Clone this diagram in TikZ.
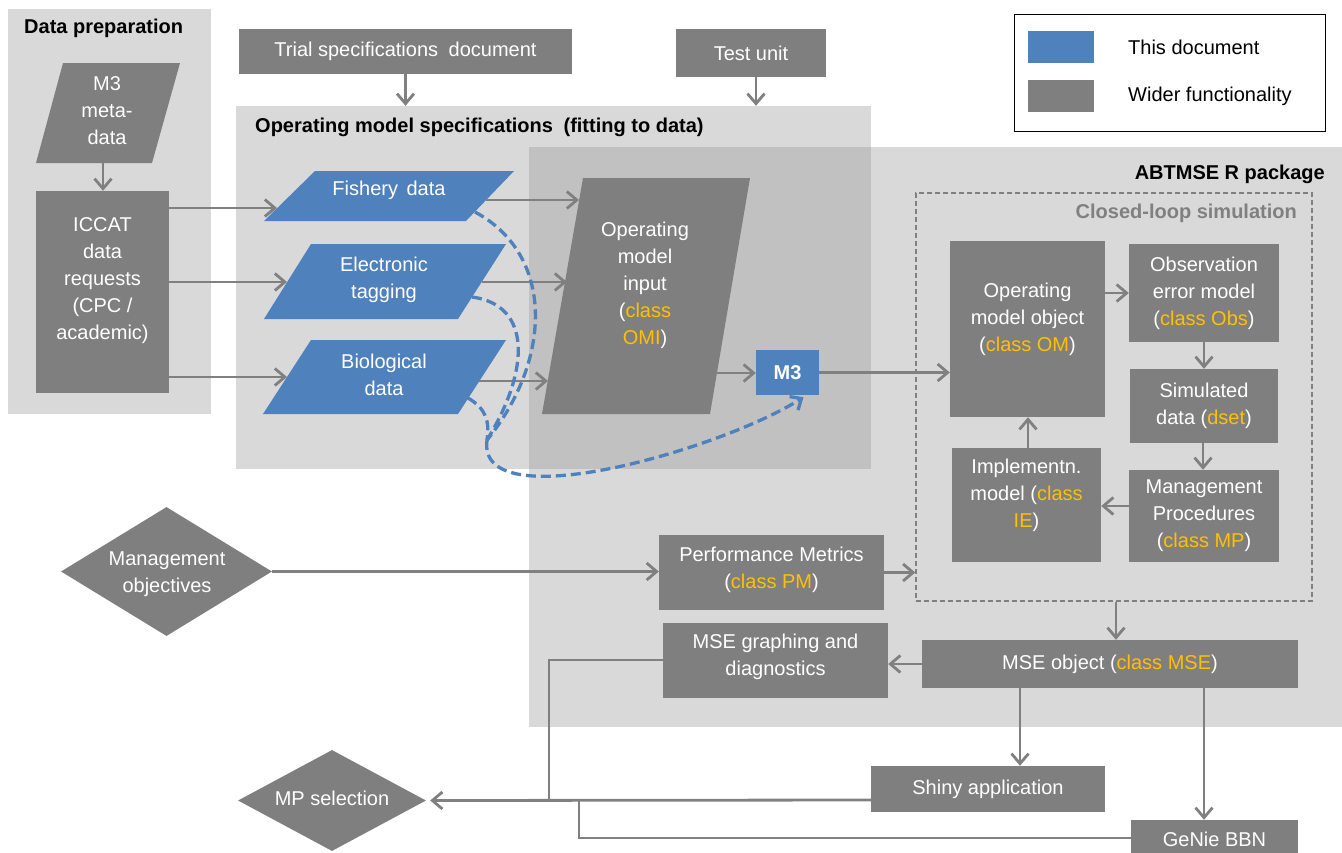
\documentclass[tikz,border=0pt]{standalone}
\usepackage{fontspec}
\setmainfont{Liberation Sans}
\usetikzlibrary{arrows.meta,shapes.geometric,calc}
\definecolor{panel}{HTML}{D9D9D9}
\definecolor{overlapc}{HTML}{C1C1C1}
\definecolor{boxgray}{HTML}{7F7F7F}
\definecolor{docblue}{HTML}{4F81BD}
\definecolor{gold}{HTML}{FFC000}
\definecolor{linegray}{HTML}{808080}
\newcommand{\dfont}{\fontsize{20}{27}\selectfont}
\newcommand{\hfont}{\bfseries\fontsize{20}{24}\selectfont}
\newcommand{\cls}[1]{\textcolor{gold}{#1}}
\tikzset{
  txt/.style={text=white,font=\dfont,align=center,inner sep=0pt},
  gbox/.style={fill=boxgray,draw=none,inner sep=0pt},
  bluebox/.style={fill=docblue,draw=none,inner sep=0pt},
  panelbox/.style={fill=panel,draw=none,inner sep=0pt},
  arr/.style={draw=linegray,line width=2.8pt,-{Straight Barb[length=10pt,width=17pt]}},
  conn/.style={draw=linegray,line width=2.8pt},
  bdash/.style={draw=docblue,line width=3.3pt,dash pattern=on 10pt off 5pt},
  heading/.style={font=\hfont,inner sep=0pt},
}
\begin{document}
\begin{tikzpicture}[x=1pt,y=-1pt]
\useasboundingbox (0,0) rectangle (1342,852);
\fill[white] (0,0) rectangle (1342,852);
% panels
\node[panelbox,minimum width=203pt,minimum height=405pt] (dprep) at (109.5,211.5) {};
\node[panelbox,minimum width=635pt,minimum height=363pt] (omspec) at (553.5,287.5) {};
\node[panelbox,minimum width=813pt,minimum height=580pt] (abt) at (935.5,437) {};
\fill[overlapc] (529,147) rectangle (871,469);
% headings
\node[heading,anchor=west] (dpt) at (24,28) {Data preparation};
\node[heading,anchor=west] (omst) at (255,127) {Operating model specifications\hspace{5pt} (fitting to data)};
\node[heading,anchor=east] (abtt) at (1325,174) {ABTMSE R package};
% legend
\node[draw=black,line width=1pt,fill=white,minimum width=311pt,minimum height=117pt,inner sep=0pt] (legend) at (1169.5,72.5) {};
\node[bluebox,minimum width=66pt,minimum height=32pt] (lgb) at (1061,47) {};
\node[gbox,minimum width=66pt,minimum height=32pt] (lgg) at (1061,96) {};
\node[anchor=west,font=\dfont,inner sep=0pt] (lgbt) at (1128,47) {This document};
\node[anchor=west,font=\dfont,inner sep=0pt] (lggt) at (1128,96) {Wider functionality};
% top boxes
\node[gbox,txt,minimum width=333pt,minimum height=45pt] (trial) at (405.5,51.5) {Trial specifications\hspace{5pt} document};
\node[gbox,txt,minimum width=150pt,minimum height=48pt] (test) at (751,53) {Test unit};
% data preparation
\fill[boxgray] (63,63) -- (180,63) -- (152,163) -- (36,163) -- cycle;
\node[txt] (meta) at (107,111) {M3\\meta-\\data};
\node[gbox,minimum width=133pt,minimum height=202pt] (iccat) at (102.5,292) {};
\node[txt] (iccatt) at (102.5,281) {ICCAT\\data\\requests\\(CPC /\\academic)};
% data parallelograms
\fill[docblue] (315,171) -- (514,171) -- (466,221) -- (264,221) -- cycle;
\node[txt] (fish) at (389,190) {Fishery\hspace{3pt} data};
\fill[docblue] (311,244) -- (506,244) -- (458,319) -- (264,319) -- cycle;
\node[txt] (etag) at (384,280) {Electronic\\tagging};
\fill[docblue] (311,340) -- (506,340) -- (458,414) -- (263,414) -- cycle;
\node[txt] (bio) at (384,375) {Biological\\data};
\fill[boxgray] (583,178) -- (750,178) -- (710,414) -- (542,414) -- cycle;
\node[txt] (omi) at (645,285) {Operating\\model\\input\\(\cls{class}\\\cls{OMI})};
\node[bluebox,txt,font=\bfseries\dfont,minimum width=63pt,minimum height=45pt] (m3) at (787.5,372.5) {M3};
% edge coordinates
\coordinate (metab) at (103,163);
\coordinate (fishL) at (277,208);
\coordinate (etagL) at (287,282);
\coordinate (bioL) at (287,377);
\coordinate (fishR) at (486,200);
\coordinate (omiL1) at (579,200);
\coordinate (etagR) at (482,282);
\coordinate (omiL2) at (567,282);
\coordinate (bioR) at (479,381);
\coordinate (omiL3) at (548,381);
\coordinate (omiR) at (717,373);
\coordinate (fishD) at (475,212);
\coordinate (etagD) at (472,297);
\coordinate (bioD) at (468,398);
\coordinate (merge) at (487,440);
% closed loop
\node[draw=linegray,line width=1.5pt,dash pattern=on 5pt off 3pt,minimum width=396pt,minimum height=408pt,inner sep=0pt] (loop) at (1114,397) {};
\node[heading,anchor=east,text=linegray] (loopt) at (1297,213) {Closed-loop simulation};
\node[gbox,minimum width=155pt,minimum height=176pt] (om) at (1027.5,329) {};
\node[txt] (omt) at (1027.5,319) {Operating\\model object\\(\cls{class OM})};
\node[gbox,txt,minimum width=150pt,minimum height=98pt] (obs) at (1204,293) {Observation\\error model\\(\cls{class Obs})};
\node[gbox,txt,minimum width=148pt,minimum height=74pt] (sim) at (1204,406) {Simulated\\data (\cls{dset})};
\node[gbox,txt,minimum width=150pt,minimum height=92pt] (mp) at (1204,516) {Management\\Procedures\\(\cls{class MP})};
\node[gbox,minimum width=149pt,minimum height=114pt] (ie) at (1026.5,505) {};
\node[txt] (iet) at (1026.5,495) {Implementn.\\model (\cls{class}\\\cls{IE})};
% lower boxes
\node[gbox,minimum width=225pt,minimum height=75pt] (pm) at (771.5,572.5) {};
\node[txt] (pmt) at (771.5,570) {Performance Metrics\\(\cls{class PM})};
\node[gbox,minimum width=225pt,minimum height=75pt] (graph) at (775.5,660.5) {};
\node[txt] (grapht) at (775.5,657) {MSE graphing and\\diagnostics};
\node[gbox,txt,minimum width=376pt,minimum height=48pt] (mse) at (1110,664) {MSE object (\cls{class MSE})};
\node[gbox,txt,minimum width=234pt,minimum height=46pt] (shiny) at (988,789) {Shiny application};
\node[gbox,txt,minimum width=167pt,minimum height=38pt] (genie) at (1214.5,839) {GeNie BBN};
\node[diamond,fill=boxgray,inner sep=0pt,minimum width=211pt,minimum height=129pt] (mgmt) at (166.5,571.5) {};
\node[txt] (mgmtt) at (167,574) {Management\\objectives};
\node[diamond,fill=boxgray,inner sep=0pt,minimum width=188pt,minimum height=101pt] (mpsel) at (332,800.5) {};
\node[txt] (mpselt) at (332,798) {MP selection};
\coordinate (j1) at (549,800);
\coordinate (j2) at (579,800);
% connectors
\draw[arr] (trial.south) -- (omspec.north -| trial.south);
\draw[arr] (test.south -| 756,0) -- (omspec.north -| 756,0);
\draw[arr] (metab) -- (iccat.north -| metab);
\draw[arr] (iccat.east |- fishL) -- (fishL);
\draw[arr] (iccat.east |- etagL) -- (etagL);
\draw[arr] (iccat.east |- bioL) -- (bioL);
\draw[arr] (fishR) -- (omiL1);
\draw[arr] (etagR) -- (omiL2);
\draw[arr] (bioR) -- (omiL3);
\draw[arr] (omiR) -- (m3.west |- omiR);
\draw[arr] (m3.east) -- (om.west |- m3.east);
\draw[arr] (om.east |- 0,293) -- (obs.west |- 0,293);
\draw[arr] (obs.south -| 1204,0) -- (sim.north -| 1204,0);
\draw[arr] (sim.south -| 1203,0) -- (mp.north -| 1203,0);
\draw[arr] (mp.west |- 0,506) -- (ie.east |- 0,506);
\draw[arr] (ie.north -| 1028,0) -- (om.south -| 1028,0);
\draw[arr] (mgmt.east) -- (pm.west |- mgmt.east);
\draw[arr] (pm.east) -- (loop.west |- pm.east);
\draw[arr] (loop.south -| 1116,0) -- (mse.north -| 1116,0);
\draw[arr] (mse.west |- 0,664) -- (graph.east |- 0,664);
\draw[arr] (mse.south -| 1020,0) -- (shiny.north -| 1020,0);
\draw[arr] (mse.south -| 1204,0) -- (genie.north -| 1204,0);
\draw[conn] (graph.west |- 0,660) -| (j1);
\draw[conn] (genie.west |- 0,838) -| (j2);
\draw[arr] (shiny.west |- j1) -- ($(mpsel.east)+(4,0)$);
% dashed blue links
\draw[bdash] (fishD) .. controls (555,255) and (552,360) .. (merge);
\draw[bdash] (etagD) .. controls (532,305) and (530,370) .. (merge);
\draw[bdash] (bioD) .. controls (485,408) and (490,420) .. (merge);
\draw[bdash,-{Straight Barb[length=9pt,width=16pt]}] (merge) .. controls (476,520) and (720,450) .. ($(m3.south)+(16,2)$);
\end{tikzpicture}
\end{document}
